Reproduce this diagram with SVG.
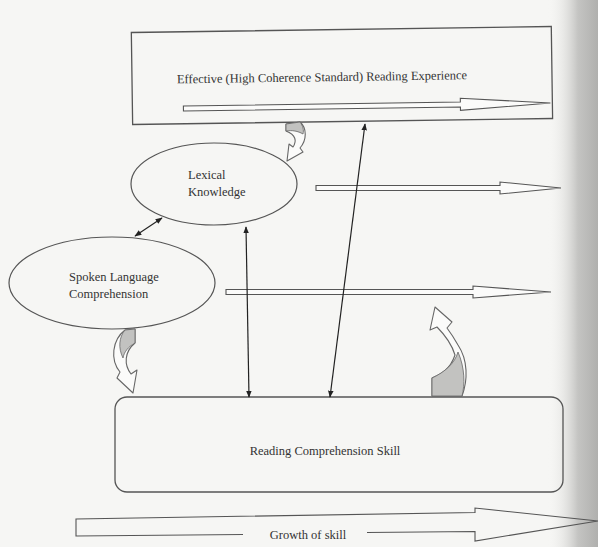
<svg xmlns="http://www.w3.org/2000/svg" width="598" height="547" viewBox="0 0 598 547">
<defs>
<linearGradient id="edge" x1="0" y1="0" x2="1" y2="0">
<stop offset="0" stop-color="#f4f4f2" stop-opacity="0"/>
<stop offset="0.6" stop-color="#c4c4c2"/>
<stop offset="1" stop-color="#b0b0ae"/>
</linearGradient>
<marker id="ah" viewBox="0 0 10 10" refX="9" refY="5" markerWidth="7" markerHeight="7" markerUnits="userSpaceOnUse" orient="auto-start-reverse">
<path d="M0,1 L10,5 L0,9 Z" fill="#222"/>
</marker>
</defs>
<style>
.box{fill:none;stroke:#555;stroke-width:1.3}
.ell{fill:none;stroke:#555;stroke-width:1.2}
.hol{fill:#fbfbfa;stroke:#555;stroke-width:1.1;stroke-linejoin:miter}
.open{fill:none;stroke:#555;stroke-width:1.1;stroke-linejoin:miter}
.thin{fill:none;stroke:#222;stroke-width:1.2}
.curv{fill:#fbfbfa;stroke:#666;stroke-width:1.1;stroke-linejoin:round}
.shade{fill:#c2c2c0;stroke:#666;stroke-width:0.8}
.lbl{font-family:"Liberation Serif","Times New Roman",serif;font-size:12.5px;fill:#333}
</style>
<rect x="0" y="0" width="598" height="547" fill="#f6f6f4"/>
<rect x="548" y="0" width="50" height="547" fill="url(#edge)"/>

<g id="experience" transform="rotate(-0.82 342 78)">
<rect class="box" x="132" y="29.5" width="420" height="92"/>
<text class="lbl" x="322" y="81" text-anchor="middle">Effective (High Coherence Standard) Reading Experience</text>
<polygon class="hol" points="183,103.7 460,103.7 460,100 550,106 460,112 460,108.7 183,108.7"/>
</g>

<g id="lexical">
<ellipse class="ell" cx="214" cy="184" rx="83" ry="41"/>
<text class="lbl" x="188" y="179">Lexical</text>
<text class="lbl" x="188" y="196">Knowledge</text>
</g>

<g id="spoken">
<ellipse class="ell" cx="112" cy="283" rx="103" ry="46"/>
<text class="lbl" x="69" y="281">Spoken Language</text>
<text class="lbl" x="69" y="298">Comprehension</text>
</g>

<g id="skill">
<rect class="box" x="115" y="397" width="448" height="95" rx="12" ry="12"/>
<text class="lbl" x="325" y="455" text-anchor="middle">Reading Comprehension Skill</text>
</g>

<g id="growth">
<path class="open" d="M243,534.5 L76,536 L76,519 L475,512.5 L475,508 L598,521 L475,541 L475,531.5 L367,532.5"/>
<text class="lbl" x="308" y="539" text-anchor="middle">Growth of skill</text>
</g>

<g id="connectors">
<polygon class="hol" points="316,185.5 500,185.5 500,182 561,188 500,194 500,190.5 316,190.5"/>
<polygon class="hol" points="226,289.5 473,289.5 473,286 551,292 473,298 473,294.5 226,294.5"/>
<line class="thin" x1="135" y1="236" x2="162" y2="218" marker-start="url(#ah)" marker-end="url(#ah)"/>
<line class="thin" x1="246" y1="227" x2="249" y2="397" marker-start="url(#ah)" marker-end="url(#ah)"/>
<line class="thin" x1="330" y1="397" x2="365" y2="124" marker-start="url(#ah)" marker-end="url(#ah)"/>
<path class="curv" d="M286,124 L300,122 C307,128 307,140 300,148 L303,152 L287,161 L289,144 L293,147 C297,141 296,135 286,131 Z"/>
<path class="shade" d="M286,124 L300,122 C303,126 304,130 303,134 C298,131 292,130 286,131 Z"/>
<path class="curv" d="M125,330 C112,340 110,360 120,372 L117,378 L133,393 L137,370 L131,374 C124,365 124,352 135,343 L135,329 Z"/>
<path class="shade" d="M125,330 L135,329 L135,343 C128,347 124,352 123,358 C118,348 119,337 125,330 Z"/>
<path class="curv" d="M432,396 L462,396 C468,380 468,360 458,345 C454,338 450,332 447,328 L452,322 L435,307 L430,330 L437,327 C445,335 452,345 455,355 C450,370 440,375 432,378 Z"/>
<path class="shade" d="M432,396 L432,378 C445,372 455,363 458,352 C465,368 465,385 462,396 Z"/>
</g>
</svg>
